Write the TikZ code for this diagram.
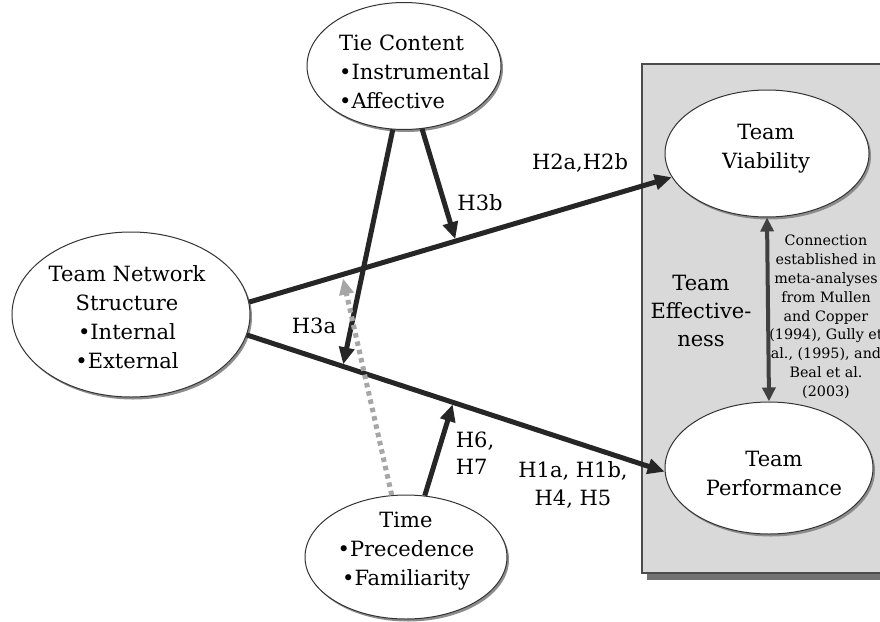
\documentclass[tikz,border=0pt]{standalone}
\usepackage{fontspec}
\setmainfont{DejaVu Serif}
\usetikzlibrary{shapes.geometric,arrows.meta,shadows}
\begin{document}
\begin{tikzpicture}[x=1pt,y=-1pt,
  oval/.style={ellipse, draw=black!80, line width=1pt, fill=white, inner sep=0pt,
    drop shadow={shadow xshift=2pt, shadow yshift=-2.5pt, fill=black!45, opacity=1}},
  txt/.style={font=\fontsize{21}{29}\selectfont, inner sep=0pt, align=center},
  lbl/.style={font=\fontsize{21}{27.5}\selectfont, inner sep=0pt},
  small/.style={font=\fontsize{14.3}{18.8}\selectfont, inner sep=0pt, align=center},
  link/.style={line width=5pt, draw=black!85, -{Triangle[length=17pt,width=15pt]}},
  dotlink/.style={line width=5pt, draw=black!35, dash pattern=on 4.5pt off 4pt,
    -{Triangle[length=16pt,width=14pt,fill=black!35]}},
  both/.style={line width=4pt, draw=black!75,
    {Triangle[length=14pt,width=13pt]}-{Triangle[length=14pt,width=13pt]}}
]
\clip (0,0) rectangle (880,621);
\fill[white] (0,0) rectangle (880,621);
% panel
\fill[black!55] (647,69) rectangle (890,580);
\filldraw[fill=black!15, draw=black!70, line width=1.2pt] (642,64) rectangle (890,573);
% ellipses
\node[oval, minimum width=204pt, minimum height=127pt] (viab) at (767,153.5) {};
\node[oval, minimum width=208pt, minimum height=132pt] (perf) at (769,468) {};
\node[oval, minimum width=194pt, minimum height=127pt] (tie) at (404,66) {};
\node[oval, minimum width=238pt, minimum height=165pt] (tns) at (131,314.5) {};
\node[oval, minimum width=202pt, minimum height=124pt] (time) at (406,557) {};
% texts
\node[txt] (viabT) at (766,149) {Team\\Viability};
\node[txt] (perfT) at (774,473) {Team\\Performance};
\node[txt, align=left, anchor=west] (tieT) at (339,72) {Tie Content\\•Instrumental\\•Affective};
\node[txt] (tnsT) at (127,317.5) {Team Network\\Structure\\•Internal\\•External};
\node[txt] (timeT) at (406,551.5) {Time\\•Precedence\\•Familiarity};
\node[txt, font=\fontsize{21}{28}\selectfont] (eff) at (701,311) {Team\\Effective-\\ness};
\node[small] (conn) at (826,317) {Connection\\established in\\meta-analyses\\from Mullen\\and Copper\\(1994), Gully et\\al., (1995), and\\Beal et al.\\(2003)};
% connectors
\draw[link] (tns.6) -- coordinate[pos=0.22] (ha) coordinate[pos=0.489] (hb) (viab.194);
\draw[link] (tns.-10) -- coordinate[pos=0.2297] (la) coordinate[pos=0.494] (lb) (perf.182);
\draw[link, shorten >=2pt] (tie.-100) -- (la);
\draw[link, shorten >=2pt] (tie.-74) -- (hb);
\draw[link, shorten >=2pt] (time.73) -- (lb);
\draw[dotlink, shorten >=4pt] (time.103) -- (ha);
\draw[both] (viab.south) -- (perf.north);
% labels
\node[lbl] (l2) at (580,163) {H2a,H2b};
\node[lbl] (l3b) at (480,203) {H3b};
\node[lbl] (l3a) at (314,326) {H3a};
\node[lbl, align=left] (l6) at (475,453) {H6,\\H7};
\node[lbl, align=center] (l1) at (573,485) {H1a, H1b,\\H4, H5};
\end{tikzpicture}
\end{document}
